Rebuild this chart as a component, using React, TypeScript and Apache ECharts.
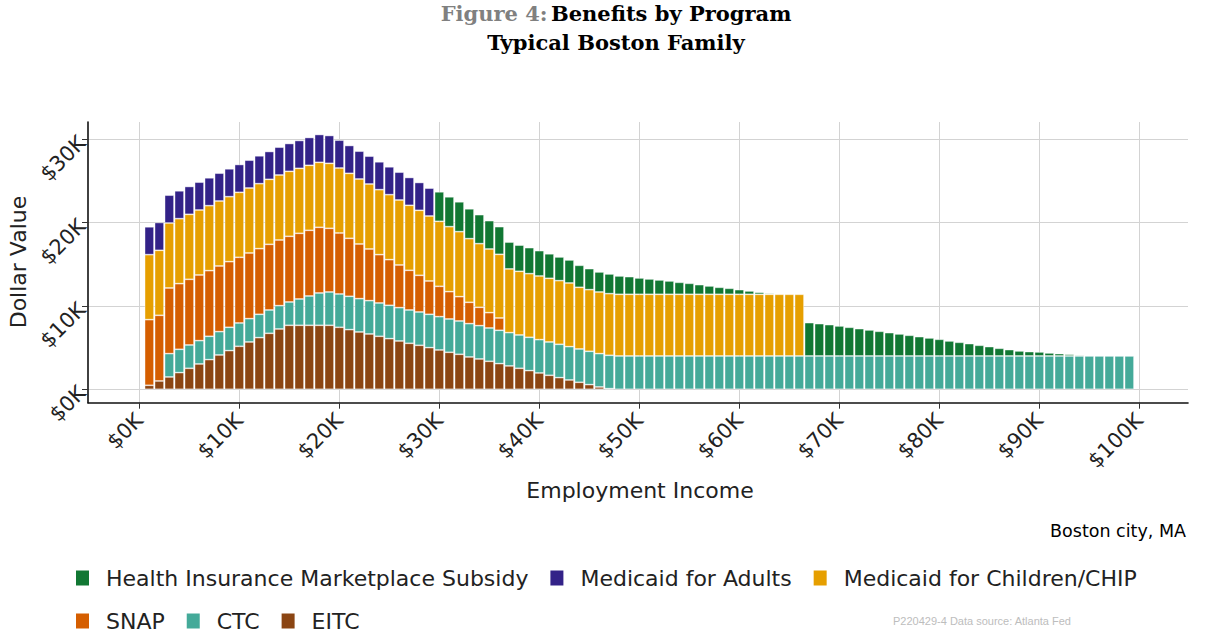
import React, { useEffect, useRef } from "react";
import * as echarts from "echarts";

// Employment income for each bar (x positions, $)
const incomes = Array.from({ length: 99 }, (_, i) => (i + 1) * 1000);
const xTicks = [0, 10000, 20000, 30000, 40000, 50000, 60000, 70000, 80000, 90000, 100000];
const yTicks = [0, 10000, 20000, 30000];

const programNames = [
  "Health Insurance Marketplace Subsidy",
  "Medicaid for Adults",
  "Medicaid for Children/CHIP",
  "SNAP",
  "CTC",
  "EITC",
];
const programColors = ["#117733", "#332288", "#E69F00", "#D55E00", "#44AA99", "#8B4513"];

// Benefit values in $K for incomes $1K..$99K
const eitc = [
  0.48, 1.0, 1.48, 2.0, 2.52, 3.04, 3.56, 4.12, 4.64, 5.16,
  5.68, 6.2, 6.72, 7.24, 7.68, 7.68, 7.68, 7.68, 7.68, 7.44,
  7.16, 6.88, 6.64, 6.36, 6.08, 5.8, 5.52, 5.28, 5.0, 4.72,
  4.44, 4.2, 3.88, 3.64, 3.36, 3.08, 2.8, 2.52, 2.24, 1.96,
  1.68, 1.4, 1.12, 0.84, 0.56, 0.28, 0.08, 0, 0, 0,
  0, 0, 0, 0, 0, 0, 0, 0, 0, 0,
  0, 0, 0, 0, 0, 0, 0, 0, 0, 0,
  0, 0, 0, 0, 0, 0, 0, 0, 0, 0,
  0, 0, 0, 0, 0, 0, 0, 0, 0, 0,
  0, 0, 0, 0, 0, 0, 0, 0, 0,
];
const ctc = [
  0, 0, 2.8, 2.8, 2.8, 2.8, 2.8, 2.8, 2.8, 2.8,
  2.8, 2.8, 2.8, 2.8, 2.8, 3.16, 3.52, 3.88, 4, 4,
  4, 4, 4, 4, 4, 4, 4, 4, 4, 4,
  4, 4, 4, 4, 4, 4, 4, 4, 4, 4,
  4, 4, 4, 4, 4, 4, 4, 4, 4, 4,
  4, 4, 4, 4, 4, 4, 4, 4, 4, 4,
  4, 4, 4, 4, 4, 4, 4, 4, 4, 4,
  4, 4, 4, 4, 4, 4, 4, 4, 4, 4,
  4, 4, 4, 4, 4, 4, 4, 4, 4, 4,
  4, 4, 4, 4, 4, 4, 4, 4, 4,
];
const snap = [
  7.88, 7.88, 7.88, 7.88, 7.88, 7.88, 7.88, 7.88, 7.88, 7.88,
  7.88, 7.88, 7.88, 7.88, 7.88, 7.88, 7.88, 7.88, 7.64, 7.32,
  6.96, 6.56, 6.2, 5.8, 5.48, 5.12, 4.76, 4.4, 4.0, 3.64,
  3.28, 2.92, 2.56, 2.2, 1.84, 1.48, 0, 0, 0, 0,
  0, 0, 0, 0, 0, 0, 0, 0, 0, 0,
  0, 0, 0, 0, 0, 0, 0, 0, 0, 0,
  0, 0, 0, 0, 0, 0, 0, 0, 0, 0,
  0, 0, 0, 0, 0, 0, 0, 0, 0, 0,
  0, 0, 0, 0, 0, 0, 0, 0, 0, 0,
  0, 0, 0, 0, 0, 0, 0, 0, 0,
];
const chip = [
  7.8, 7.8, 7.8, 7.8, 7.8, 7.8, 7.8, 7.8, 7.8, 7.8,
  7.8, 7.8, 7.8, 7.8, 7.8, 7.8, 7.8, 7.8, 7.8, 7.8,
  7.8, 7.8, 7.8, 7.8, 7.8, 7.8, 7.8, 7.8, 7.8, 7.8,
  7.8, 7.8, 7.64, 7.64, 7.64, 7.64, 7.64, 7.64, 7.64, 7.64,
  7.64, 7.64, 7.64, 7.4, 7.4, 7.4, 7.4, 7.4, 7.4, 7.4,
  7.4, 7.4, 7.4, 7.4, 7.4, 7.4, 7.4, 7.4, 7.4, 7.4,
  7.4, 7.4, 7.4, 7.4, 7.4, 7.4, 0, 0, 0, 0,
  0, 0, 0, 0, 0, 0, 0, 0, 0, 0,
  0, 0, 0, 0, 0, 0, 0, 0, 0, 0,
  0, 0, 0, 0, 0, 0, 0, 0, 0,
];
const adults = [
  3.34, 3.34, 3.34, 3.34, 3.34, 3.34, 3.34, 3.34, 3.34, 3.34,
  3.34, 3.34, 3.34, 3.34, 3.34, 3.34, 3.34, 3.34, 3.34, 3.34,
  3.34, 3.34, 3.34, 3.34, 3.34, 3.34, 3.34, 3.34, 3.34, 0,
  0, 0, 0, 0, 0, 0, 0, 0, 0, 0,
  0, 0, 0, 0, 0, 0, 0, 0, 0, 0,
  0, 0, 0, 0, 0, 0, 0, 0, 0, 0,
  0, 0, 0, 0, 0, 0, 0, 0, 0, 0,
  0, 0, 0, 0, 0, 0, 0, 0, 0, 0,
  0, 0, 0, 0, 0, 0, 0, 0, 0, 0,
  0, 0, 0, 0, 0, 0, 0, 0, 0,
];
const marketplace = [
  0, 0, 0, 0, 0, 0, 0, 0, 0, 0,
  0, 0, 0, 0, 0, 0, 0, 0, 0, 0,
  0, 0, 0, 0, 0, 0, 0, 0, 0, 3.54,
  3.58, 3.58, 3.58, 3.48, 3.4, 3.32, 3.22, 3.14, 3.12, 3.04,
  2.94, 2.84, 2.76, 2.64, 2.52, 2.4, 2.36, 2.2, 2.12, 1.96,
  1.84, 1.72, 1.6, 1.44, 1.32, 1.16, 1.0, 0.84, 0.72, 0.56,
  0.4, 0.24, 0.12, 0, 0, 0, 4.0, 3.88, 3.76, 3.6,
  3.44, 3.28, 3.12, 2.96, 2.8, 2.64, 2.48, 2.32, 2.16, 2.0,
  1.8, 1.64, 1.48, 1.28, 1.12, 0.92, 0.76, 0.6, 0.52, 0.48,
  0.36, 0.28, 0.2, 0.12, 0, 0, 0, 0, 0,
];

// stacking order bottom -> top
const stackOrder: [string, number[]][] = [
  ["EITC", eitc],
  ["CTC", ctc],
  ["SNAP", snap],
  ["Medicaid for Children/CHIP", chip],
  ["Medicaid for Adults", adults],
  ["Health Insurance Marketplace Subsidy", marketplace],
];

const SANS = '"DejaVu Sans", Verdana, sans-serif';
const SERIF = '"DejaVu Serif", Georgia, serif';

export default function App() {
  const ref = useRef<HTMLDivElement>(null);

  useEffect(() => {
    if (!ref.current) return;
    const chart = echarts.init(ref.current, undefined, { renderer: "svg" });

    const colorOf = (name: string) => programColors[programNames.indexOf(name)];

    // data items are [value ($), income ($)] so that the value dimension is stacked
    const series = stackOrder.map(([name, vals]) => ({
      name,
      type: "bar",
      stack: "total",
      barWidth: 9.4,
      encode: { x: 1, y: 0 },
      dimensions: ["benefit", "income"],
      itemStyle: {
        color: colorOf(name),
        borderColor: "rgba(255,255,255,0.5)",
        borderWidth: 0.8,
      },
      data: incomes.map((x, i) => [vals[i] > 0 ? Math.round(vals[i] * 1000) : "-", x]),
    }));

    const legendCommon = {
      left: 76,
      orient: "horizontal",
      icon: "rect",
      itemWidth: 13,
      itemHeight: 15,
      itemGap: 22,
      padding: 0,
      itemStyle: { borderWidth: 0 },
      textStyle: {
        fontFamily: SANS,
        fontSize: 22,
        color: "#222",
        padding: [0, 0, 0, 12],
      },
    };

    const kFmt = (v: number) => "$" + Math.round(v / 1000) + "K";

    chart.setOption({
      animation: false,
      backgroundColor: "#ffffff",
      grid: {
        left: 88,
        right: 21,
        top: 122,
        bottom: 239.3,
        containLabel: false,
        outerBoundsMode: "none",
      },
      xAxis: {
        type: "value",
        min: -5130,
        max: 104870,
        axisLine: { show: true, onZero: false, lineStyle: { color: "#111", width: 1.6 } },
        axisTick: {
          show: true,
          customValues: xTicks,
          length: 6,
          lineStyle: { color: "#333", width: 1 },
        },
        axisLabel: {
          customValues: xTicks,
          formatter: kFmt,
          rotate: 45,
          margin: 14,
          fontFamily: SANS,
          fontSize: 21,
          color: "#222",
        },
        splitLine: { show: true, lineStyle: { color: "#d3d3d3", width: 1 } },
      },
      yAxis: {
        type: "value",
        min: -1610,
        max: 32080,
        axisLine: { show: true, onZero: false, lineStyle: { color: "#111", width: 1.6 } },
        axisTick: {
          show: true,
          customValues: yTicks,
          length: 6,
          lineStyle: { color: "#333", width: 1 },
        },
        axisLabel: {
          customValues: yTicks,
          formatter: kFmt,
          rotate: 45,
          margin: 6,
          fontFamily: SANS,
          fontSize: 21,
          color: "#222",
        },
        splitLine: { show: true, lineStyle: { color: "#d3d3d3", width: 1 } },
      },
      legend: [
        { ...legendCommon, top: 567, data: programNames.slice(0, 3) },
        { ...legendCommon, top: 610, data: programNames.slice(3) },
      ],
      graphic: [
        {
          type: "text",
          x: 616,
          y: 13,
          style: {
            text: "{g|Figure 4:} {b|Benefits by Program}",
            rich: {
              g: { fill: "#808080", fontFamily: SERIF, fontWeight: "bold", fontSize: 21 },
              b: { fill: "#000", fontFamily: SERIF, fontWeight: "bold", fontSize: 21 },
            },
            align: "center",
            verticalAlign: "middle",
          },
        },
        {
          type: "text",
          x: 616,
          y: 42,
          style: {
            text: "Typical Boston Family",
            fill: "#000",
            font: `bold 21px ${SERIF}`,
            align: "center",
            verticalAlign: "middle",
          },
        },
        {
          type: "text",
          x: 18,
          y: 262,
          rotation: Math.PI / 2,
          style: {
            text: "Dollar Value",
            fill: "#222",
            font: `22px ${SANS}`,
            align: "center",
            verticalAlign: "middle",
          },
        },
        {
          type: "text",
          x: 640,
          y: 490,
          style: {
            text: "Employment Income",
            fill: "#222",
            font: `22px ${SANS}`,
            align: "center",
            verticalAlign: "middle",
          },
        },
        {
          type: "text",
          x: 1186,
          y: 531,
          style: {
            text: "Boston city, MA",
            fill: "#000",
            font: `17.5px ${SANS}`,
            align: "right",
            verticalAlign: "middle",
          },
        },
        {
          type: "text",
          x: 893,
          y: 621,
          style: {
            text: "P220429-4 Data source: Atlanta Fed",
            fill: "#bdbdbd",
            font: '11px "Liberation Sans", Arial, sans-serif',
            align: "left",
            verticalAlign: "middle",
          },
        },
      ],
      series,
    });

    return () => chart.dispose();
  }, []);

  return (
    <div
      ref={ref}
      style={{ position: "absolute", left: 0, top: 0, width: 1209, height: 642 }}
    />
  );
}
